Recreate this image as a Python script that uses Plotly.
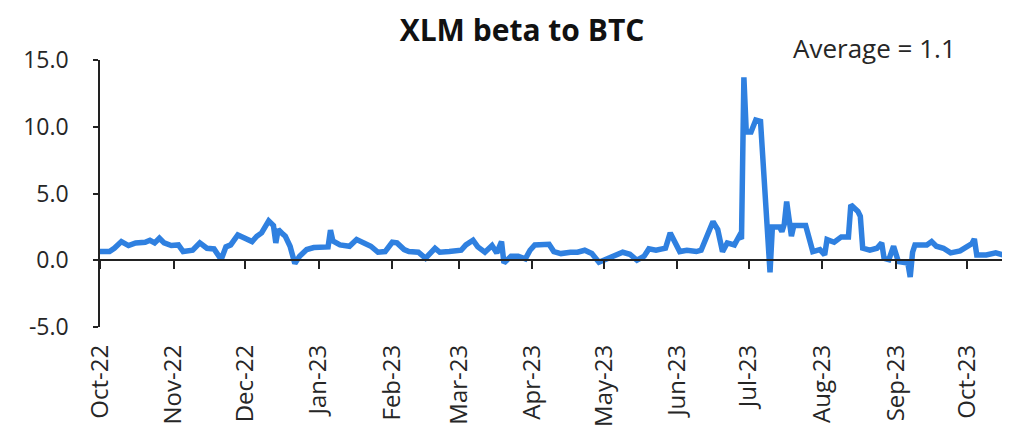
import plotly.graph_objects as go

# Daily beta readings
dates = [
    "2022-10-01", "2022-10-05", "2022-10-07", "2022-10-10", "2022-10-13", "2022-10-16",
    "2022-10-20", "2022-10-22", "2022-10-24", "2022-10-26", "2022-10-28", "2022-10-31",
    "2022-11-03", "2022-11-05", "2022-11-09", "2022-11-12", "2022-11-15", "2022-11-18",
    "2022-11-21", "2022-11-23", "2022-11-25", "2022-11-28", "2022-12-01", "2022-12-04",
    "2022-12-06", "2022-12-08", "2022-12-11", "2022-12-13", "2022-12-14", "2022-12-15",
    "2022-12-17", "2022-12-18", "2022-12-20", "2022-12-22", "2022-12-24", "2022-12-27",
    "2022-12-30", "2023-01-03", "2023-01-05", "2023-01-06", "2023-01-07", "2023-01-10",
    "2023-01-14", "2023-01-17", "2023-01-20", "2023-01-23", "2023-01-26", "2023-01-29",
    "2023-02-01", "2023-02-03", "2023-02-06", "2023-02-08", "2023-02-12", "2023-02-15",
    "2023-02-19", "2023-02-21", "2023-02-25", "2023-03-02", "2023-03-04", "2023-03-07",
    "2023-03-09", "2023-03-12", "2023-03-15", "2023-03-17", "2023-03-19", "2023-03-20",
    "2023-03-23", "2023-03-26", "2023-03-29", "2023-03-31", "2023-04-02", "2023-04-08",
    "2023-04-10", "2023-04-13", "2023-04-17", "2023-04-20", "2023-04-23", "2023-04-26",
    "2023-04-29", "2023-05-02", "2023-05-05", "2023-05-09", "2023-05-12", "2023-05-15",
    "2023-05-18", "2023-05-20", "2023-05-23", "2023-05-27", "2023-05-29", "2023-05-31",
    "2023-06-02", "2023-06-05", "2023-06-09", "2023-06-11", "2023-06-14", "2023-06-16",
    "2023-06-17", "2023-06-18", "2023-06-20", "2023-06-22", "2023-06-25", "2023-06-27",
    "2023-06-28", "2023-06-29", "2023-06-30", "2023-07-02", "2023-07-04", "2023-07-06",
    "2023-07-10", "2023-07-11", "2023-07-14", "2023-07-15", "2023-07-16", "2023-07-17",
    "2023-07-19", "2023-07-20", "2023-07-25", "2023-07-27", "2023-07-28", "2023-07-31",
    "2023-08-02", "2023-08-03", "2023-08-06", "2023-08-09", "2023-08-12", "2023-08-13",
    "2023-08-16", "2023-08-17", "2023-08-18", "2023-08-21", "2023-08-24", "2023-08-26",
    "2023-08-27", "2023-08-29", "2023-08-31", "2023-09-02", "2023-09-04", "2023-09-06",
    "2023-09-07", "2023-09-08", "2023-09-09", "2023-09-14", "2023-09-16", "2023-09-18",
    "2023-09-21", "2023-09-24", "2023-09-28", "2023-09-30", "2023-10-03", "2023-10-04",
    "2023-10-05", "2023-10-09", "2023-10-13", "2023-10-16", "2023-10-18",
]
beta = [
    0.65, 0.65, 0.9, 1.4, 1.1, 1.3,
    1.35, 1.5, 1.3, 1.65, 1.3, 1.1,
    1.15, 0.65, 0.75, 1.3, 0.9, 0.85,
    0.05, 1.0, 1.15, 1.9, 1.65, 1.4,
    1.8, 2.05, 2.95, 2.6, 1.3, 2.3,
    1.95, 1.8, 1.05, -0.25, 0.3, 0.8,
    0.95, 0.95, 1.0, 2.25, 1.45, 1.15,
    1.05, 1.55, 1.35, 1.05, 0.6, 0.65,
    1.35, 1.3, 0.8, 0.65, 0.6, 0.15,
    0.9, 0.6, 0.65, 0.75, 1.15, 1.5,
    1.0, 0.6, 1.1, 0.55, 1.4, -0.2,
    0.3, 0.3, 0.1, 0.75, 1.15, 1.2,
    0.65, 0.5, 0.6, 0.6, 0.75, 0.5,
    -0.15, 0.1, 0.3, 0.6, 0.45, 0.0,
    0.3, 0.85, 0.75, 0.9, 2.05, 1.45,
    0.65, 0.75, 0.65, 0.75, 2.05, 2.9,
    2.6, 2.3, 0.65, 1.3, 1.15, 1.8,
    1.6, 13.7, 9.6, 9.6, 10.5, 10.4,
    -0.9, 2.5, 2.5, 2.15, 2.7, 4.4,
    1.8, 2.6, 2.6, 1.3, 0.65, 0.8,
    0.4, 1.55, 1.35, 1.75, 1.75, 4.15,
    3.65, 3.3, 0.9, 0.75, 0.9, 1.3,
    0.15, 0.05, 1.05, -0.1, -0.2, -0.2,
    -1.25, 0.6, 1.15, 1.15, 1.4, 1.05,
    0.9, 0.55, 0.7, 0.9, 1.25, 1.6,
    0.4, 0.4, 0.55, 0.4, 0.5,
]

month_ticks = [
    "2022-10-01", "2022-11-01", "2022-12-01", "2023-01-01", "2023-02-01", "2023-03-01",
    "2023-04-01", "2023-05-01", "2023-06-01", "2023-07-01", "2023-08-01", "2023-09-01",
    "2023-10-01",
]
month_labels = [
    "Oct-22", "Nov-22", "Dec-22", "Jan-23", "Feb-23", "Mar-23", "Apr-23",
    "May-23", "Jun-23", "Jul-23", "Aug-23", "Sep-23", "Oct-23",
]
average_text = "Average = 1.1"

FONT = "Open Sans"
x_range = ["2022-10-01", "2023-10-19"]

fig = go.Figure()
fig.add_trace(go.Scatter(
    x=dates, y=beta, mode="lines",
    line=dict(color="#2F80E0", width=5.5),
    hoverinfo="x+y", showlegend=False,
))
# empty trace so the zero-crossing axis gets drawn
fig.add_trace(go.Scatter(x=[], y=[], xaxis="x2", showlegend=False))

# the page puts the figure 8px in from the top-left, so size it to fit the window
fig.update_layout(
    width=1002, height=434,
    margin=dict(l=92, r=0, t=52, b=115),
    paper_bgcolor="white", plot_bgcolor="white",
    font=dict(family=FONT, color="#262626"),
    title=dict(
        text="<b>XLM beta to BTC</b>", x=0.513, xanchor="center",
        y=0.948, yanchor="middle", font=dict(size=30, color="#111111"),
    ),
    xaxis=dict(
        type="date", range=x_range, tickvals=month_ticks, ticktext=month_labels,
        tickangle=-90, showgrid=False, showline=False, ticks="", zeroline=False,
        tickfont=dict(size=24, color="#262626"), ticklabelstandoff=12,
        automargin=False,
    ),
    xaxis2=dict(
        type="date", range=x_range, overlaying="x", anchor="free", position=0.25,
        tickvals=month_ticks, showticklabels=False, showgrid=False,
        showline=True, linecolor="#222222", linewidth=1.5,
        ticks="outside", ticklen=8, tickcolor="#222222", tickwidth=1.5,
        automargin=False,
    ),
    yaxis=dict(
        range=[-5, 15], tickvals=[-5, 0, 5, 10, 15],
        ticktext=["-5.0", "0.0", "5.0", "10.0", "15.0"],
        showgrid=False, zeroline=False, showline=True, linecolor="#222222",
        linewidth=1.5, ticks="outside", ticklen=5, tickcolor="#222222", tickwidth=1.5,
        tickfont=dict(size=23, color="#262626"), ticklabelstandoff=20,
        automargin=False,
    ),
    annotations=[dict(
        text=average_text, xref="paper", yref="paper", x=0.851, y=1.045,
        xanchor="center", yanchor="middle", showarrow=False,
        font=dict(size=26, color="#262626"),
    )],
)

fig.write_html("out.html")
